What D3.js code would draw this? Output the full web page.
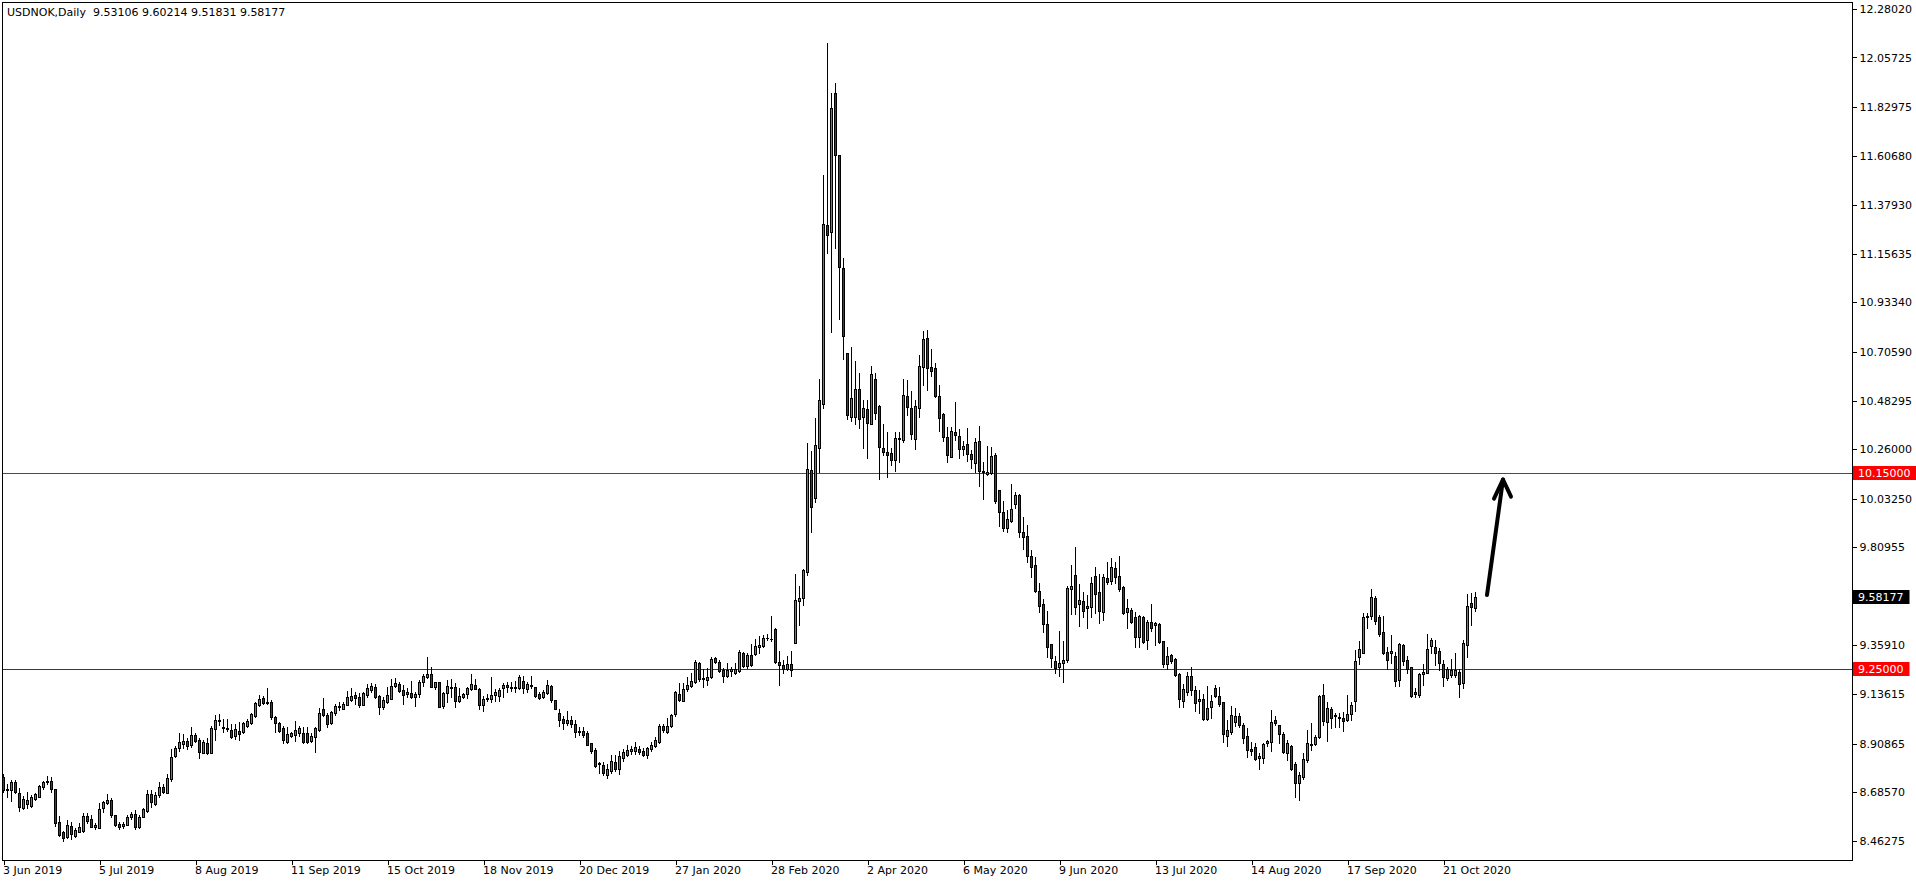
<!DOCTYPE html>
<html><head><meta charset="utf-8">
<script src="https://cdn.jsdelivr.net/npm/d3@7"></script>
<style>html,body{margin:0;padding:0;background:#fff;overflow:hidden}</style>
</head><body><svg id="c" width="1916" height="884" style="display:block"></svg>
<script>
const titleText = "USDNOK,Daily  9.53106 9.60214 9.51831 9.58177";

const opens = [
8.756,8.694,8.695,8.732,8.680,8.611,8.630,8.623,8.653,8.665,
8.711,8.731,8.737,8.698,8.547,8.501,8.478,8.530,8.484,8.504,
8.509,8.574,8.561,8.527,8.522,8.614,8.637,8.649,8.579,8.538,
8.532,8.536,8.570,8.584,8.527,8.573,8.597,8.675,8.633,8.672,
8.708,8.683,8.747,8.851,8.887,8.906,8.920,8.900,8.946,8.923,
8.867,8.911,8.867,8.974,9.010,8.984,8.978,8.969,8.942,8.965,
8.960,8.991,9.004,9.037,9.087,9.118,9.099,9.098,9.029,9.001,
8.980,8.917,8.945,8.949,8.955,8.957,8.955,8.922,8.940,8.971,
9.067,9.040,9.001,9.050,9.075,9.069,9.087,9.108,9.131,9.122,
9.087,9.131,9.154,9.168,9.127,
9.078,9.101,9.114,9.174,9.182,9.154,9.134,9.139,9.121,9.134,
9.192,9.215,9.228,9.170,9.191,9.082,9.139,9.165,9.167,9.105,
9.123,9.134,9.160,9.176,9.157,9.084,9.111,9.114,9.130,9.128,
9.162,9.176,9.168,9.162,9.162,9.195,9.157,9.171,9.166,9.134,
9.121,9.139,9.173,9.107,9.047,9.021,9.002,9.016,8.998,8.966,
8.966,8.955,8.909,8.877,8.819,8.808,8.764,8.784,8.824,8.790,
8.844,8.856,8.876,8.874,8.883,8.874,8.856,8.882,8.897,8.917,
8.989,8.963,8.989,9.046,9.136,9.105,9.157,9.174,9.192,9.277,
9.209,9.200,9.212,9.303,9.284,9.246,9.218,9.243,9.231,9.243,
9.323,9.266,9.315,9.319,9.353,9.358,9.391,
9.388,9.434,9.285,9.269,9.252,9.273,9.372,9.563,
9.575,9.696,10.164,10.034,10.266,10.467,11.290,11.256,11.893,11.609,
11.090,10.703,10.406,10.409,10.537,10.406,10.444,10.376,10.583,10.458,
10.266,10.245,10.241,10.208,10.305,10.303,10.502,10.450,10.305,10.448,
10.635,10.768,10.635,10.630,10.502,10.419,10.314,10.225,10.337,10.320,
10.259,10.282,10.237,10.197,10.295,10.159,10.147,10.148,10.233,10.070,
9.970,9.899,9.931,10.006,10.048,9.879,9.861,9.768,9.726,9.608,
9.549,9.457,9.364,9.287,9.261,9.279,9.292,9.619,9.682,9.547,
9.561,9.529,9.536,9.677,9.602,9.514,9.667,9.656,9.714,9.677,
9.628,9.514,9.521,9.488,9.396,9.488,9.383,9.465,9.452,9.457,
9.379,9.272,9.313,9.296,
9.228,9.105,9.147,9.218,9.154,9.102,9.113,9.021,9.078,9.162,
9.127,9.098,8.945,8.960,9.006,9.033,8.994,8.943,8.883,8.894,
8.844,8.841,8.909,8.917,9.016,8.994,8.952,8.867,8.897,8.815,
8.726,8.757,8.833,8.900,8.906,8.937,9.131,9.009,9.067,9.038,
9.030,9.026,9.016,9.043,9.105,9.307,9.326,9.488,9.494,9.578,
9.488,9.419,9.329,9.326,9.310,9.200,9.359,9.292,9.258,9.145,
9.131,9.229,9.234,9.356,9.352,9.333,9.272,9.211,9.222,9.223,
9.237,9.185,9.361,9.552,9.53106
];

const highs = [
8.767,8.721,8.743,8.743,8.706,8.666,8.685,8.672,8.682,8.718,
8.738,8.760,8.755,8.698,8.576,8.507,8.558,8.548,8.522,8.542,
8.588,8.590,8.581,8.545,8.637,8.645,8.675,8.657,8.582,8.550,
8.550,8.581,8.596,8.603,8.581,8.614,8.695,8.695,8.688,8.731,
8.723,8.767,8.884,8.897,8.955,8.952,8.932,8.983,8.955,8.932,
8.925,8.932,8.991,9.040,9.043,9.021,9.021,8.998,8.998,9.009,
9.009,9.020,9.047,9.098,9.131,9.128,9.163,9.107,9.035,9.009,
8.988,8.986,8.963,9.012,8.989,8.986,8.983,8.955,8.986,9.070,
9.118,9.047,9.060,9.089,9.101,9.098,9.150,9.163,9.147,9.139,
9.147,9.182,9.185,9.182,9.131,
9.124,9.170,9.205,9.208,9.192,9.177,9.162,9.196,9.147,9.200,
9.226,9.306,9.258,9.192,9.192,9.143,9.200,9.205,9.186,9.162,
9.139,9.166,9.228,9.206,9.162,9.128,9.136,9.212,9.159,9.162,
9.185,9.192,9.192,9.196,9.223,9.218,9.192,9.217,9.170,9.144,
9.154,9.199,9.177,9.108,9.065,9.035,9.058,9.035,9.016,8.986,
8.986,8.966,8.911,8.886,8.825,8.822,8.815,8.856,8.854,8.876,
8.883,8.902,8.897,8.914,8.899,8.890,8.894,8.917,8.937,8.997,
8.998,9.024,9.044,9.151,9.185,9.185,9.215,9.234,9.292,9.284,
9.249,9.254,9.307,9.307,9.292,9.254,9.277,9.261,9.277,9.338,
9.330,9.323,9.365,9.390,9.404,9.408,9.410,
9.493,9.439,9.333,9.291,9.310,9.333,9.687,9.633,
9.710,10.290,10.251,10.402,10.583,11.517,12.125,11.893,11.942,11.609,
11.136,10.703,10.730,10.666,10.608,10.483,10.487,10.641,10.608,10.463,
10.373,10.338,10.264,10.338,10.338,10.583,10.579,10.527,10.483,10.691,
10.802,10.806,10.719,10.653,10.554,10.424,10.360,10.363,10.477,10.352,
10.297,10.357,10.256,10.309,10.366,10.199,10.275,10.271,10.240,10.072,
10.022,9.980,10.100,10.063,10.054,9.947,9.910,9.797,9.763,9.644,
9.572,9.517,9.364,9.310,9.425,9.379,9.631,9.728,9.809,9.641,
9.605,9.590,9.674,9.720,9.686,9.686,9.743,9.758,9.743,9.769,
9.631,9.572,9.529,9.514,9.498,9.494,9.475,9.549,9.468,9.460,
9.379,9.353,9.319,9.299,
9.231,9.182,9.235,9.261,9.173,9.154,9.136,9.173,9.131,9.177,
9.167,9.101,9.016,9.081,9.070,9.050,9.001,8.978,8.917,8.912,
8.863,8.912,8.925,9.062,9.035,8.994,8.963,8.925,8.902,8.825,
8.779,8.867,8.971,9.001,8.946,9.131,9.182,9.101,9.075,9.047,
9.050,9.055,9.131,9.101,9.338,9.379,9.506,9.506,9.616,9.586,
9.499,9.495,9.350,9.407,9.330,9.371,9.364,9.310,9.261,9.162,
9.231,9.274,9.411,9.391,9.384,9.345,9.292,9.261,9.295,9.323,
9.249,9.384,9.593,9.598,9.60214
];

const lows = [
8.685,8.662,8.646,8.683,8.600,8.608,8.611,8.619,8.649,8.662,
8.698,8.723,8.685,8.532,8.484,8.463,8.473,8.472,8.481,8.503,
8.504,8.542,8.525,8.518,8.519,8.596,8.631,8.573,8.532,8.518,
8.519,8.533,8.562,8.518,8.522,8.570,8.594,8.619,8.626,8.665,
8.680,8.680,8.738,8.845,8.874,8.890,8.885,8.894,8.917,8.844,
8.864,8.862,8.864,8.925,8.994,8.960,8.966,8.932,8.929,8.926,
8.955,8.986,9.000,9.032,9.082,9.090,9.090,9.021,8.963,8.960,
8.910,8.910,8.937,8.922,8.943,8.913,8.913,8.917,8.871,8.966,
9.035,8.986,8.997,9.040,9.063,9.066,9.084,9.105,9.090,9.078,
9.084,9.124,9.147,9.118,9.044,
9.067,9.096,9.111,9.170,9.146,9.088,9.124,9.116,9.082,9.124,
9.174,9.211,9.170,9.157,9.075,9.073,9.101,9.124,9.078,9.098,
9.119,9.119,9.154,9.157,9.069,9.059,9.105,9.101,9.105,9.104,
9.124,9.147,9.151,9.147,9.157,9.142,9.147,9.162,9.124,9.113,
9.117,9.134,9.101,9.067,8.990,8.977,8.993,8.986,8.940,8.946,
8.940,8.900,8.864,8.801,8.772,8.764,8.752,8.775,8.784,8.769,
8.830,8.851,8.861,8.861,8.861,8.851,8.842,8.876,8.894,8.912,
8.961,8.958,8.986,9.035,9.105,9.102,9.151,9.170,9.188,9.197,
9.170,9.177,9.208,9.277,9.235,9.192,9.215,9.220,9.228,9.238,
9.261,9.257,9.264,9.315,9.322,9.352,9.384,
9.378,9.279,9.176,9.231,9.246,9.217,9.372,9.453,
9.546,9.681,9.878,10.015,10.154,10.450,11.159,10.796,11.184,10.858,
10.672,10.396,10.390,10.376,10.357,10.266,10.218,10.373,10.396,10.125,
10.232,10.131,10.189,10.160,10.203,10.293,10.415,10.305,10.261,10.406,
10.554,10.531,10.597,10.500,10.344,10.298,10.202,10.222,10.302,10.220,
10.233,10.207,10.174,10.156,10.092,10.031,10.141,10.144,10.014,9.907,
9.884,9.878,9.927,9.991,9.858,9.800,9.740,9.674,9.605,9.514,
9.422,9.304,9.261,9.233,9.220,9.192,9.284,9.503,9.501,9.449,
9.488,9.440,9.491,9.506,9.460,9.475,9.641,9.641,9.647,9.610,
9.503,9.437,9.463,9.353,9.350,9.368,9.341,9.426,9.361,9.368,
9.261,9.249,9.279,9.218,
9.078,9.075,9.131,9.131,9.059,9.047,9.016,9.016,9.024,9.120,
9.082,8.917,8.899,8.952,8.990,8.986,8.909,8.848,8.856,8.833,
8.790,8.818,8.897,8.876,8.994,8.909,8.867,8.833,8.787,8.665,
8.649,8.744,8.825,8.879,8.900,8.932,8.994,8.922,8.978,8.986,
8.986,8.967,9.013,9.016,9.059,9.274,9.323,9.437,9.479,9.456,
9.404,9.318,9.249,9.277,9.173,9.174,9.269,9.231,9.124,9.120,
9.120,9.177,9.231,9.323,9.269,9.246,9.173,9.200,9.215,9.215,
9.124,9.162,9.307,9.453,9.51831
];

const closes = [
8.695,8.698,8.732,8.688,8.619,8.654,8.649,8.662,8.677,8.714,
8.732,8.738,8.698,8.542,8.489,8.473,8.533,8.492,8.512,8.524,
8.576,8.554,8.527,8.535,8.607,8.639,8.649,8.579,8.536,8.527,
8.538,8.571,8.584,8.525,8.571,8.608,8.675,8.639,8.671,8.708,
8.688,8.749,8.845,8.887,8.914,8.920,8.899,8.946,8.922,8.871,
8.916,8.867,8.978,9.017,9.016,8.978,8.974,8.940,8.974,8.951,
9.003,9.012,9.044,9.093,9.111,9.093,9.093,9.032,9.001,8.968,
8.923,8.952,8.955,8.969,8.978,8.917,8.917,8.943,8.981,9.047,
9.040,8.997,9.055,9.081,9.082,9.090,9.122,9.127,9.118,9.087,
9.142,9.162,9.174,9.122,9.075,
9.108,9.130,9.173,9.186,9.151,9.133,9.143,9.121,9.136,9.191,
9.217,9.228,9.170,9.189,9.078,9.139,9.171,9.167,9.105,9.125,
9.134,9.163,9.182,9.160,9.084,9.111,9.117,9.130,9.145,9.154,
9.176,9.170,9.165,9.167,9.214,9.162,9.180,9.176,9.128,9.116,
9.144,9.177,9.108,9.069,9.016,9.004,9.016,8.998,8.963,8.963,
8.949,8.903,8.876,8.807,8.813,8.775,8.792,8.828,8.790,8.851,
8.868,8.879,8.882,8.893,8.868,8.856,8.888,8.900,8.925,8.989,
8.971,8.989,9.038,9.145,9.108,9.159,9.177,9.196,9.281,9.205,
9.206,9.214,9.296,9.284,9.243,9.220,9.246,9.249,9.249,9.327,
9.266,9.315,9.269,9.356,9.362,9.391,9.394,
9.387,9.285,9.269,9.252,9.275,9.244,9.569,9.578,
9.704,10.170,9.996,10.280,10.483,11.294,11.242,11.826,11.609,11.095,
10.780,10.415,10.496,10.537,10.396,10.448,10.382,10.603,10.425,10.270,
10.245,10.232,10.210,10.309,10.313,10.506,10.452,10.328,10.458,10.641,
10.764,10.630,10.618,10.505,10.401,10.314,10.233,10.343,10.324,10.259,
10.274,10.237,10.213,10.291,10.161,10.156,10.153,10.228,10.023,9.973,
9.899,9.939,9.983,10.048,9.881,9.855,9.771,9.717,9.610,9.541,
9.455,9.353,9.302,9.256,9.276,9.292,9.621,9.631,9.536,9.567,
9.518,9.540,9.644,9.595,9.518,9.671,9.651,9.717,9.671,9.616,
9.509,9.529,9.465,9.396,9.494,9.376,9.465,9.440,9.463,9.376,
9.272,9.310,9.287,9.223,
9.111,9.157,9.218,9.154,9.093,9.113,9.021,9.070,9.104,9.128,
9.088,8.951,8.971,9.040,9.036,8.994,8.935,8.879,8.876,8.838,
8.851,8.906,8.920,9.006,9.004,8.951,8.871,8.909,8.790,8.729,
8.764,8.836,8.909,8.906,8.940,9.127,9.013,9.070,9.024,9.033,
9.027,9.013,9.044,9.085,9.287,9.342,9.488,9.494,9.583,9.472,
9.413,9.323,9.292,9.332,9.196,9.367,9.289,9.251,9.128,9.134,
9.228,9.237,9.342,9.384,9.326,9.280,9.212,9.249,9.246,9.246,
9.180,9.371,9.540,9.537,9.58177
];

const xTickIndex = [0,24,48,72,96,120,144,168,192,216,240,264,288,312,336,360];
const xTickLabels = ["3 Jun 2019","5 Jul 2019","8 Aug 2019","11 Sep 2019","15 Oct 2019","18 Nov 2019",
  "20 Dec 2019","27 Jan 2020","28 Feb 2020","2 Apr 2020","6 May 2020","9 Jun 2020",
  "13 Jul 2020","14 Aug 2020","17 Sep 2020","21 Oct 2020"];
const yTickValues = [12.28020,12.05725,11.82975,11.60680,11.37930,11.15635,10.93340,10.70590,
  10.48295,10.26000,10.03250,9.80955,9.35910,9.13615,8.90865,8.68570,8.46275];
const levelValues = [10.15, 9.25];
const levelColors = ["#ff0000", "#c00000"];
const lastPrice = 9.58177;
const arrowFrom = {i: 371, p: 9.59};
const arrowTo = {i: 375, p: 10.12};

const svg = d3.select("#c");
const fontFam = "'DejaVu Sans', Verdana, sans-serif";
const fontSize = "11px";
const plotLeft = 2, plotTop = 2, plotRight = 1852, plotBottom = 860;
const n = closes.length;

const x = d3.scaleLinear().domain([0, n - 1]).range([3, 3 + 4 * (n - 1)]);
const y = d3.scaleLinear().domain([8.46275, 12.28020]).range([840.7, 8.9]);

svg.append("rect").attr("x",0).attr("y",0).attr("width",1916).attr("height",884).attr("fill","#fff");

// frame
svg.append("path")
  .attr("d", `M${plotLeft+0.5},${plotBottom+0.5}V${plotTop+0.5}H${plotRight+0.5}V${plotBottom+0.5}H${plotLeft+0.5}`)
  .attr("fill","none").attr("stroke","#000").attr("stroke-width",1).attr("shape-rendering","crispEdges");

// level lines
levelValues.forEach((v, k) => {
  const yy = Math.round(y(v)) + 0.5;
  svg.append("line").attr("x1", plotLeft+1).attr("x2", plotRight).attr("y1", yy).attr("y2", yy)
    .attr("stroke", levelColors[k]).attr("stroke-width", 1).attr("shape-rendering","crispEdges");
});

// candles
const data = closes.map((c, i) => ({i, o: opens[i], h: highs[i], l: lows[i], c}));
const g = svg.append("g").attr("shape-rendering","crispEdges");
data.forEach(d => {
  const cx = Math.round(x(d.i));
  g.append("line").attr("x1", cx + 0.5).attr("x2", cx + 0.5)
    .attr("y1", Math.round(y(d.h))).attr("y2", Math.round(y(d.l)) + 1)
    .attr("stroke","#000").attr("stroke-width",1);
  const top = Math.round(y(Math.max(d.o, d.c)));
  const bot = Math.round(y(Math.min(d.o, d.c)));
  const up = d.c >= d.o;
  if (bot - top < 1) {
    g.append("line").attr("x1", cx - 1).attr("x2", cx + 2).attr("y1", top + 0.5).attr("y2", top + 0.5)
      .attr("stroke","#000").attr("stroke-width",1);
  } else {
    g.append("rect").attr("x", cx - 0.5).attr("y", top + 0.5).attr("width", 2).attr("height", bot - top)
      .attr("fill", up ? "#32a832" : "#d40000").attr("stroke","#000").attr("stroke-width",1);
  }
});

// right axis
const yAxis = d3.axisRight(y).tickValues(yTickValues).tickFormat(d3.format(".5f")).tickSize(4).tickPadding(3);
const ya = svg.append("g").attr("transform", `translate(${plotRight + 0.5},0)`).call(yAxis);
ya.select(".domain").remove();
ya.selectAll(".tick line").attr("stroke","#000").attr("shape-rendering","crispEdges");
ya.selectAll(".tick text").attr("fill","#000").style("font-family", fontFam).style("font-size", fontSize);

// bottom axis
const xAxis = d3.axisBottom(x).tickValues(xTickIndex).tickFormat((d, k) => xTickLabels[k]).tickSize(4).tickPadding(2);
const xa = svg.append("g").attr("transform", `translate(0.5,${plotBottom + 0.5})`).call(xAxis);
xa.select(".domain").remove();
xa.selectAll(".tick line").attr("stroke","#000").attr("shape-rendering","crispEdges");
xa.selectAll(".tick text").attr("fill","#000").attr("text-anchor","start").attr("x", -1).attr("dy","0.7em")
  .style("font-family", fontFam).style("font-size", fontSize);

// price labels on right axis
function priceBox(v, bg, fg) {
  const yy = y(v);
  const t = svg.append("text").attr("x", plotRight + 6).attr("y", yy).attr("dy","0.35em")
    .attr("fill", fg).style("font-family", fontFam).style("font-size", fontSize).text(d3.format(".5f")(v));
  const bb = t.node().getBBox();
  svg.insert("rect", () => t.node()).attr("x", plotRight + 1).attr("y", Math.round(yy) - 7)
    .attr("width", Math.min(1916 - plotRight - 1, bb.width + 11)).attr("height", 14).attr("fill", bg);
}
priceBox(levelValues[0], "#ff0000", "#fff");
priceBox(levelValues[1], "#ff0000", "#fff");
priceBox(lastPrice, "#000", "#fff");

// title
svg.append("text").attr("x", 7).attr("y", 16).attr("fill","#000")
  .style("font-family", fontFam).style("font-size", fontSize).style("white-space","pre")
  .attr("xml:space","preserve").text(titleText);

// arrow
const ax0 = x(arrowFrom.i), ay0 = y(arrowFrom.p), ax1 = x(arrowTo.i), ay1 = y(arrowTo.p);
svg.append("path").attr("d", `M${ax0},${ay0}L${ax1},${ay1}`)
  .attr("stroke","#000").attr("stroke-width",4).attr("stroke-linecap","round").attr("fill","none");
svg.append("path").attr("d", `M${ax1-9},${ay1+19}L${ax1},${ay1}L${ax1+8},${ay1+17}`)
  .attr("stroke","#000").attr("stroke-width",4).attr("stroke-linecap","round").attr("stroke-linejoin","round").attr("fill","none");
</script></body></html>
